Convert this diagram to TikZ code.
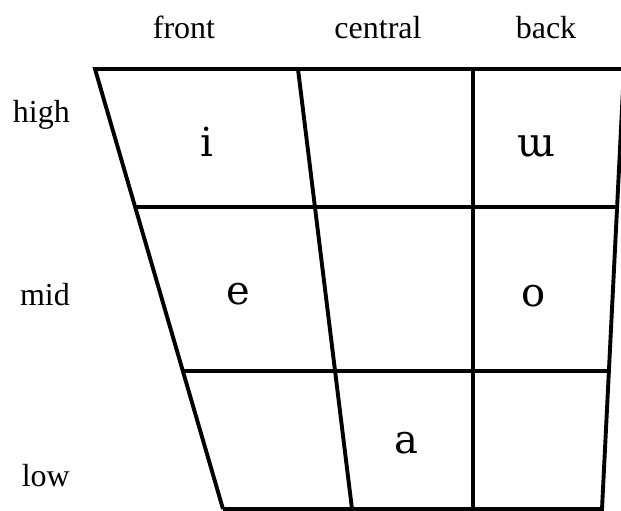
\documentclass[tikz,border=0pt]{standalone}
\usepackage{fontspec}
\setmainfont{Liberation Serif}
\newfontfamily\ipafont{DejaVu Serif}
\usetikzlibrary{positioning, calc}
\tikzset{
  colhead/.style ={font=\fontsize{32}{36}\selectfont, anchor=base, inner sep=0pt},
  rowhead/.style ={font=\fontsize{32}{36}\selectfont, anchor=base east, inner sep=0pt},
  vowel/.style   ={font=\ipafont\fontsize{40}{44}\selectfont, anchor=base, inner sep=0pt},
  outline/.style ={line width=3.9pt, line join=miter},
  divider/.style ={line width=3.4pt},
}

\begin{document}
\begin{tikzpicture}[x=1pt, y=-1pt]
\useasboundingbox (0,0) rectangle (621,511);

% corners of the chart
\coordinate (TL) at (95,69);
\coordinate (TR) at (624,69);
\coordinate (BL) at (223,509);
\coordinate (BR) at (602,509);
\coordinate (CT) at (298,69);
\coordinate (CB) at (352,509);
\coordinate (KT) at (473,69);
\coordinate (KB) at (473,509);

% frame and columns
\draw[outline] (BL) -- (TL) -- (TR);
\draw[outline] (BL) -- (BR) -- (TR);
\draw[outline] (CT) -- (CB);
\draw[outline] (KT) -- (KB);

% rows
\foreach \t in {0.314, 0.686}
  \draw[divider] ($(TL)!\t!(BL)$) -- ($(TR)!\t!(BR)$);

% column heads
\node[colhead] (front)   at (184,39) {front};
\node[colhead] (central) at (378,39) {central};
\node[colhead] (back)    at (546,39) {back};

% row heads
\node[rowhead] (high) at (70,122) {high};
\node[rowhead] (mid)  at (70,305) {mid};
\node[rowhead] (low)  at (70,486) {low};

% vowels
\node[vowel] (vi) at (207,156) {i};
\node[vowel] (vu) at (536,156) {ɯ};
\node[vowel] (ve) at (238,304) {e};
\node[vowel] (vo) at (534,306) {o};
\node[vowel] (va) at (406,453) {a};

\end{tikzpicture}
\end{document}
